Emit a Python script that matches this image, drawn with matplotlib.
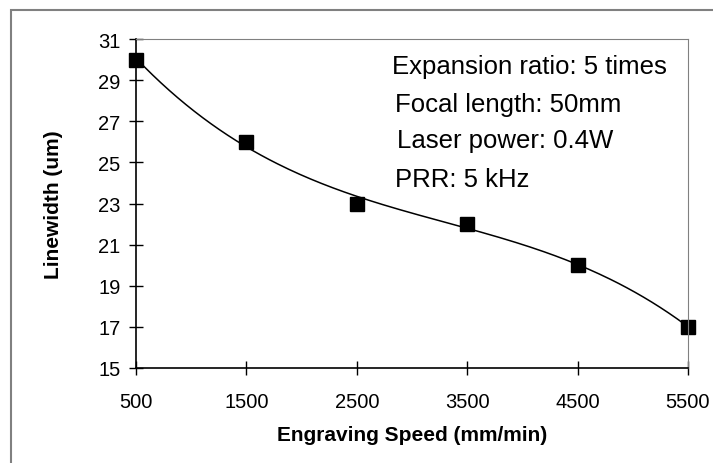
import matplotlib.pyplot as plt
import numpy as np

speed = [500, 1500, 2500, 3500, 4500, 5500]
linewidth = [30, 26, 23, 22, 20, 17]
yticks = [15, 17, 19, 21, 23, 25, 27, 29, 31]
notes = ['Expansion ratio: 5 times', 'Focal length: 50mm',
         'Laser power: 0.4W', 'PRR: 5 kHz']

plt.rcParams['font.family'] = ['Liberation Sans', 'DejaVu Sans']

fig = plt.figure(figsize=(7.13, 4.64), dpi=100)
ax = fig.add_axes([136/713, 1 - 369/464, (688-136)/713, (369-40)/464])

# outer chart frame
fig.patches.append(plt.Rectangle((11/713, -0.01), 1.0, 1 - 11/464 + 0.01,
                                 transform=fig.transFigure, fill=False,
                                 edgecolor='#808080', linewidth=1.5))

# trend line (polynomial fit through the measured points)
coef = np.polyfit(speed, linewidth, 3)
xs = np.linspace(speed[0], speed[-1], 200)
ax.plot(xs, np.polyval(coef, xs), color='black', linewidth=1.1)
ax.plot(speed, linewidth, 's', color='black', markersize=10, clip_on=False)

ax.set_xlim(500, 5500)
ax.set_ylim(15, 31)
ax.set_xticks(speed)
ax.set_yticks(yticks)
ax.tick_params(direction='inout', length=10, width=1, labelsize=14.5)
ax.tick_params(axis='y', pad=6)
ax.tick_params(axis='x', pad=12)
for s in ['top', 'right']:
    ax.spines[s].set_color('#808080')
for s in ['left', 'bottom']:
    ax.spines[s].set_linewidth(1.2)

ax.set_xlabel('Engraving Speed (mm/min)', fontsize=15, fontweight='bold')
ax.set_ylabel('Linewidth (um)', fontsize=15, fontweight='bold')
ax.xaxis.set_label_coords((412 - 136) / 552, -(436 - 369) / 329)
ax.yaxis.set_label_coords(-(136 - 54) / 552, (369 - 205) / 329)
ax.xaxis.label.set_va('center')
ax.yaxis.label.set_va('center')

for (x, y), t in zip([(392, 74), (395, 112), (397, 148), (395, 187)], notes):
    fig.text(x/713, 1 - y/464, t, fontsize=18.5, va='baseline', ha='left')

plt.savefig('out.png', dpi=100)
